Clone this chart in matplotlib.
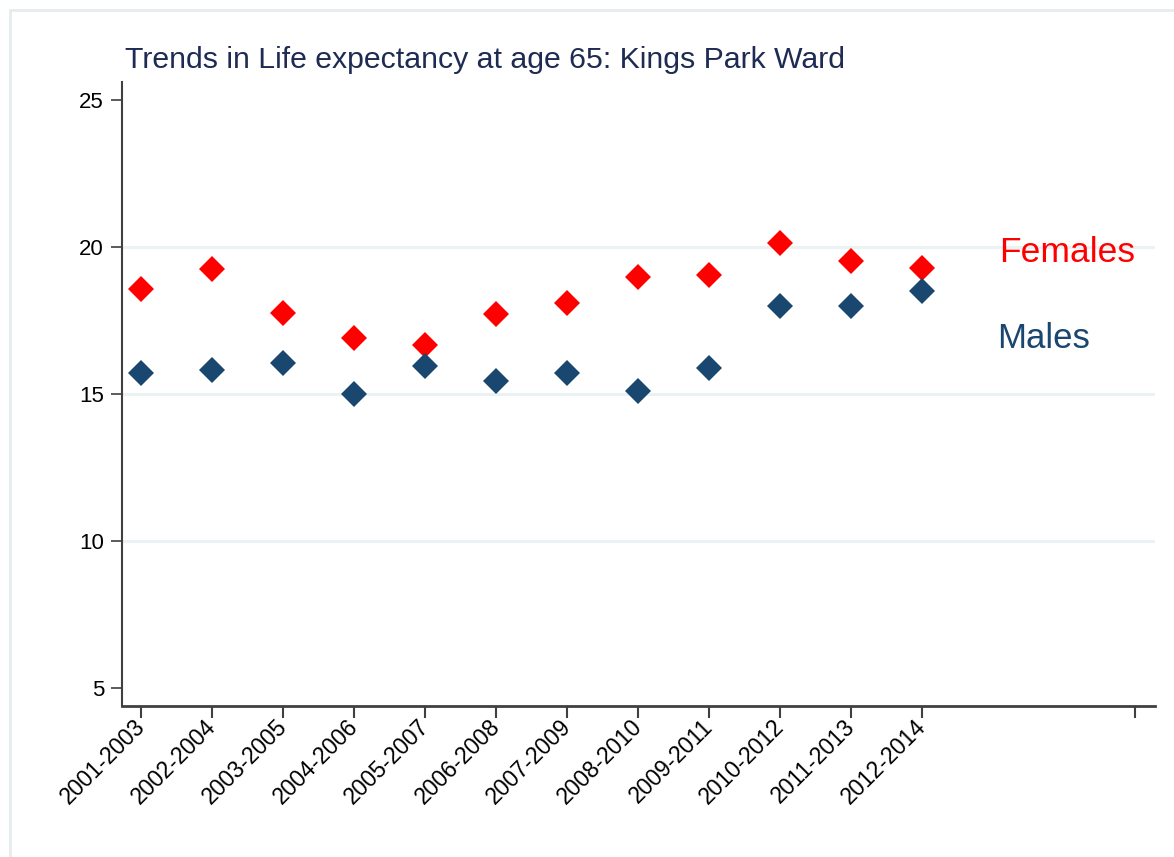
import matplotlib
matplotlib.use('Agg')
import matplotlib.pyplot as plt
from matplotlib.patches import Rectangle

plt.rcParams['font.family'] = ['Liberation Sans', 'DejaVu Sans']

# data
periods = ['2001-2003', '2002-2004', '2003-2005', '2004-2006', '2005-2007', '2006-2008',
           '2007-2009', '2008-2010', '2009-2011', '2010-2012', '2011-2013', '2012-2014']
females = [18.57, 19.25, 17.74, 16.89, 16.67, 17.73, 18.11, 18.97, 19.04, 20.13, 19.51, 19.30]
males = [15.70, 15.81, 16.04, 15.01, 15.95, 15.43, 15.72, 15.09, 15.87, 17.98, 17.98, 18.51]
yticks = [5, 10, 15, 20, 25]
grid_vals = [10, 15, 20]

red = '#ff0000'
navy = '#1a476f'
title_col = '#1e2b52'

fig = plt.figure(figsize=(11.74, 8.57), dpi=100)
fig.patches.append(Rectangle((10/1174, -0.1), 1.2, 1 - 10/857 + 0.1, transform=fig.transFigure,
                             fill=False, edgecolor='#e6ecef', linewidth=2))
ax = fig.add_axes([122/1174, 1 - 706/857, (1155 - 122)/1174, (706 - 82)/857])

xs = list(range(1, len(periods) + 1))

for g in grid_vals:
    ax.axhline(g, color='#eaf2f3', linewidth=2.2, zorder=0)

ax.plot(xs, females, linestyle='none', marker='D', markersize=13, color=red,
        markeredgewidth=0, zorder=3)
ax.plot(xs, males, linestyle='none', marker='D', markersize=13, color=navy,
        markeredgewidth=0, zorder=3)

ax.text(13.08, 19.50, 'Females', color=red, fontsize=25.5, ha='left', va='baseline')
ax.text(13.06, 16.56, 'Males', color=navy, fontsize=25, ha='left', va='baseline')

ax.set_xlim(0.728, 15.28)
ax.set_ylim(4.39, 25.61)

ax.set_yticks(yticks)
ax.set_yticklabels([str(v) for v in yticks])
ax.set_xticks(xs + [15])
ax.set_xticklabels(periods + [''], rotation=45, ha='right', va='center', rotation_mode='anchor')

for s in ['top', 'right']:
    ax.spines[s].set_visible(False)
for s in ['left', 'bottom']:
    ax.spines[s].set_color('#404040')
    ax.spines[s].set_linewidth(1.5)
ax.spines['bottom'].set_linewidth(2)

ax.tick_params(axis='y', length=8, width=1.2, color='#404040', labelsize=16, pad=5)
ax.tick_params(axis='x', length=8.5, width=1.5, color='#404040', labelsize=16.5, pad=4)

fig.text(125/1174, 1 - 68/857, 'Trends in Life expectancy at age 65: Kings Park Ward',
         color=title_col, fontsize=21.8, ha='left', va='baseline')

fig.savefig('out.png', dpi=100)
